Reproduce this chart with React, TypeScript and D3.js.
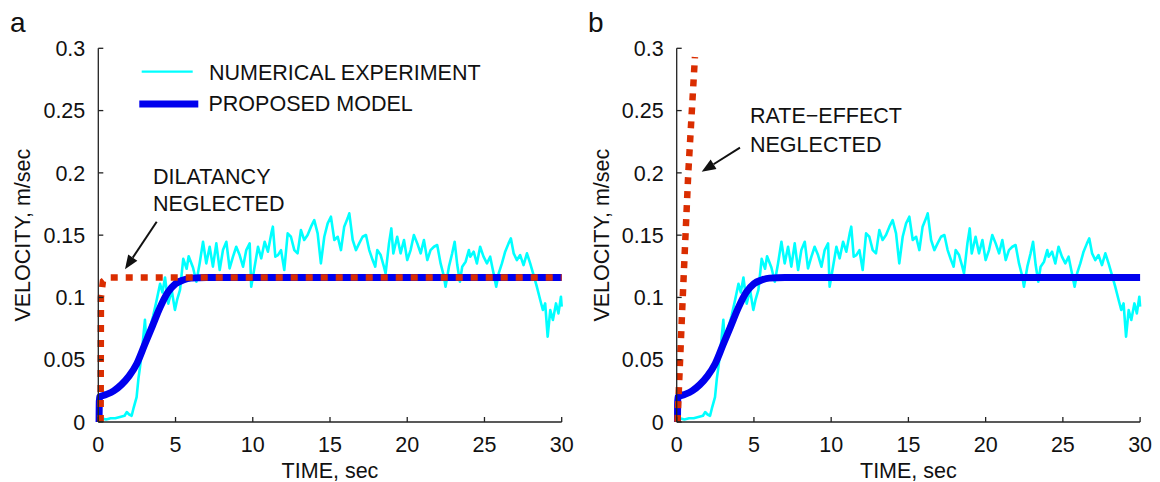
import React from "react";
import * as d3 from "d3";

// ---- data ----
const xTicks = [0, 5, 10, 15, 20, 25, 30];
const yTicks = [0, 0.05, 0.1, 0.15, 0.2, 0.25, 0.3];
const yTickLabels = ["0", "0.05", "0.1", "0.15", "0.2", "0.25", "0.3"];

// Numerical experiment (cyan)
const expTime = [
  0, 0.2, 0.5, 0.8, 1.1, 1.4, 1.7, 1.84, 2.0, 2.16, 2.3, 2.48, 2.6, 2.7, 2.85, 3.02, 3.12, 3.25, 3.35, 3.55,
  3.78, 4.0, 4.15, 4.32, 4.53, 4.75, 4.96, 5.1, 5.29, 5.5, 5.72, 5.85, 6.13, 6.35, 6.56, 6.78, 6.99, 7.21, 7.42,
  7.64, 7.86, 8.07, 8.29, 8.5, 8.72, 8.93, 9.15, 9.37, 9.58, 9.8, 9.9, 10.12, 10.34, 10.55, 10.77, 10.98, 11.2,
  11.3, 11.46, 11.63, 11.83, 12.04, 12.26, 12.47, 12.69, 12.9, 13.12, 13.33, 13.55, 13.77, 13.98, 14.2, 14.41,
  14.63, 14.85, 15.06, 15.28, 15.5, 15.71, 15.92, 16.14, 16.25, 16.47, 16.68, 16.89, 17.11, 17.33, 17.54, 17.76,
  17.93, 18.06, 18.28, 18.49, 18.6, 18.82, 18.97, 19.1, 19.35, 19.57, 19.79, 20.0, 20.22, 20.43, 20.65, 20.87,
  21.08, 21.3, 21.51, 21.73, 21.94, 22.16, 22.38, 22.48, 22.7, 22.91, 23.07, 23.24, 23.41, 23.56, 23.78, 23.99,
  24.08, 24.3, 24.51, 24.72, 24.94, 25.16, 25.37, 25.59, 25.76, 25.92, 26.13, 26.34, 26.56, 26.71, 26.89, 27.1,
  27.31, 27.53, 27.75, 27.96, 28.18, 28.39, 28.61, 28.78, 28.93, 29.09, 29.26, 29.43, 29.63, 29.79, 29.95, 30.0,
];
const expVel = [
  0, 0.003, 0.002, 0.003, 0.003, 0.004, 0.005, 0.008, 0.006, 0.005, 0.012, 0.02, 0.035, 0.044, 0.06, 0.082, 0.062,
  0.07, 0.076, 0.085, 0.098, 0.111, 0.104, 0.116, 0.095, 0.106, 0.09, 0.098, 0.106, 0.131, 0.123, 0.133, 0.124,
  0.1126, 0.1273, 0.1447, 0.1273, 0.1407, 0.1247, 0.1434, 0.122, 0.138, 0.1447, 0.1233, 0.1327, 0.1407, 0.134,
  0.1247, 0.138, 0.1434, 0.1086, 0.1247, 0.1407, 0.1314, 0.1447, 0.1367, 0.1514, 0.1568, 0.1327, 0.134, 0.138,
  0.122, 0.1514, 0.1487, 0.138, 0.1354, 0.1541, 0.1461, 0.1501, 0.1568, 0.1621, 0.1514, 0.1273, 0.1487, 0.1595,
  0.1648, 0.1461, 0.1487, 0.138, 0.1568, 0.1635, 0.1675, 0.1461, 0.138, 0.1434, 0.1487, 0.1501, 0.138, 0.13,
  0.1247, 0.138, 0.134, 0.1247, 0.1193, 0.1434, 0.1554, 0.1354, 0.1487, 0.1354, 0.1461, 0.13, 0.138, 0.1501,
  0.1434, 0.1354, 0.1461, 0.13, 0.138, 0.1407, 0.1421, 0.1273, 0.1166, 0.1086, 0.1247, 0.1354, 0.1447, 0.126,
  0.1126, 0.1247, 0.1287, 0.138, 0.1327, 0.1367, 0.1273, 0.1407, 0.1327, 0.1273, 0.1327, 0.1193, 0.1086, 0.1193,
  0.1273, 0.1367, 0.1434, 0.1474, 0.1354, 0.13, 0.134, 0.126, 0.1354, 0.1273, 0.118, 0.1086, 0.0979, 0.0899,
  0.0952, 0.0685, 0.0899, 0.0819, 0.0952, 0.0872, 0.1006, 0.0926,
];

// Proposed model (blue)
const modelTime = [0.05, 0.07, 0.5, 1.0, 1.5, 2.0, 2.5, 3.0, 3.5, 4.0, 4.5, 5.0, 5.5, 6.0, 7.0, 10, 15, 20, 25, 30];
const modelVel = [0, 0.02, 0.022, 0.025, 0.03, 0.037, 0.047, 0.062, 0.077, 0.092, 0.104, 0.111, 0.114, 0.1155, 0.116, 0.116, 0.116, 0.116, 0.116, 0.116];

// Dilatancy neglected (red, panel a)
const dilTime = [0.15, 0.17, 0.3, 0.6, 30];
const dilVel = [0, 0.1, 0.113, 0.116, 0.116];

// Rate-effect neglected (red, panel b)
const rateTime = [0.05, 0.39, 0.75, 1.18];
const rateVel = [0, 0.1, 0.2, 0.293];

// ---- layout ----
const W = 1160;
const H = 482;
const plotW = 463.4;
const yTop = 48.3;
const yBot = 422;
const panels = [
  { left: 98.3, label: "a", labelX: 10 },
  { left: 676.7, label: "b", labelX: 588 },
];
const FONT = "'Liberation Sans', Arial, Helvetica, sans-serif";
const FS = 21.5;
const CYAN = "#00ffff";
const BLUE = "#0000ee";
const RED = "#da2d00";

const x = d3.scaleLinear().domain([0, 30]).range([0, plotW]);
const y = d3.scaleLinear().domain([0, 0.3]).range([yBot, yTop]);

function zip(t: number[], v: number[]): [number, number][] {
  return t.map((tt, i) => [tt, v[i]]);
}

function Arrow({ x1, y1, x2, y2 }: { x1: number; y1: number; x2: number; y2: number }) {
  const ang = Math.atan2(y2 - y1, x2 - x1);
  const L = 14;
  const Wd = 5.5;
  const bx = x2 - L * Math.cos(ang);
  const by = y2 - L * Math.sin(ang);
  const px = -Math.sin(ang) * Wd;
  const py = Math.cos(ang) * Wd;
  return (
    <g>
      <line x1={x1} y1={y1} x2={bx} y2={by} stroke="#111" strokeWidth={2} />
      <path d={`M${x2},${y2} L${bx + px},${by + py} L${bx - px},${by - py} Z`} fill="#111" />
    </g>
  );
}

function Panel({ idx }: { idx: number }) {
  const p = panels[idx];
  const line = d3
    .line<[number, number]>()
    .x((d) => p.left + x(d[0]))
    .y((d) => y(d[1]));
  const smooth = d3
    .line<[number, number]>()
    .x((d) => p.left + x(d[0]))
    .y((d) => y(d[1]))
    .curve(d3.curveMonotoneX);
  return (
    <g fontFamily={FONT}>
      <text x={p.labelX} y={32} fontSize={28} fill="#111">
        {p.label}
      </text>
      {/* data */}
      <path d={line(zip(expTime, expVel)) || ""} fill="none" stroke={CYAN} strokeWidth={2.6} strokeLinejoin="round" />
      <path d={smooth(zip(modelTime, modelVel)) || ""} fill="none" stroke={BLUE} strokeWidth={7} />
      {idx === 0 ? (
        <path d={line(zip(dilTime, dilVel)) || ""} fill="none" stroke={RED} strokeWidth={6.5} strokeDasharray="7,8" />
      ) : (
        <path d={line(zip(rateTime, rateVel)) || ""} fill="none" stroke={RED} strokeWidth={6.5} strokeDasharray="7,7" />
      )}
      {/* axes */}
      <line x1={p.left} y1={yBot} x2={p.left + plotW} y2={yBot} stroke="#222" strokeWidth={1.3} />
      <line x1={p.left} y1={yBot} x2={p.left} y2={yTop} stroke="#222" strokeWidth={1.3} />
      {xTicks.map((t) => (
        <g key={"x" + t}>
          <line x1={p.left + x(t)} x2={p.left + x(t)} y1={yBot} y2={yBot - 5} stroke="#222" strokeWidth={1.3} />
          <text x={p.left + x(t)} y={yBot + 30} fontSize={FS} textAnchor="middle" fill="#111">
            {t}
          </text>
        </g>
      ))}
      {yTicks.map((v, i) => (
        <g key={"y" + v}>
          <line x1={p.left} x2={p.left + 5} y1={y(v)} y2={y(v)} stroke="#222" strokeWidth={1.3} />
          <text x={p.left - 13} y={y(v)} dy="0.36em" fontSize={FS} textAnchor="end" fill="#111">
            {yTickLabels[i]}
          </text>
        </g>
      ))}
      <text x={p.left + plotW / 2} y={478} fontSize={FS} textAnchor="middle" fill="#111">
        TIME, sec
      </text>
      <text
        transform={`translate(${p.left - 68},${(yTop + yBot) / 2}) rotate(-90)`}
        fontSize={FS}
        textAnchor="middle"
        fill="#111"
      >
        VELOCITY, m/sec
      </text>
      {idx === 0 ? (
        <g>
          <line x1={141.7} x2={192.7} y1={71.7} y2={71.7} stroke={CYAN} strokeWidth={2.2} />
          <text x={209} y={80} fontSize={FS} fill="#111">NUMERICAL EXPERIMENT</text>
          <line x1={139.3} x2={198.3} y1={104} y2={104} stroke={BLUE} strokeWidth={7} />
          <text x={208.5} y={111} fontSize={FS} fill="#111">PROPOSED MODEL</text>
          <text x={153} y={184} fontSize={FS} fill="#111">DILATANCY</text>
          <text x={153} y={211} fontSize={FS} fill="#111">NEGLECTED</text>
          <Arrow x1={156.7} y1={221.7} x2={125} y2={269.3} />
        </g>
      ) : (
        <g>
          <text x={750} y={123} fontSize={FS} fill="#111">RATE−EFFECT</text>
          <text x={750} y={151.5} fontSize={FS} fill="#111">NEGLECTED</text>
          <Arrow x1={740} y1={147.7} x2={701.7} y2={171.7} />
        </g>
      )}
    </g>
  );
}

export default function App() {
  return (
    <svg
      width={W}
      height={H}
      viewBox={`0 0 ${W} ${H}`}
      style={{ position: "absolute", left: 0, top: 0, background: "#fff" }}
    >
      <rect width={W} height={H} fill="#fff" />
      <Panel idx={0} />
      <Panel idx={1} />
    </svg>
  );
}
